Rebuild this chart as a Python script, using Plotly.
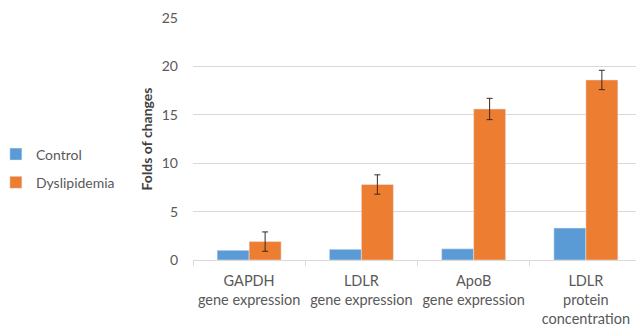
import plotly.graph_objects as go

categories = ["GAPDH<br>gene expression", "LDLR<br>gene expression", "ApoB<br>gene expression", "LDLR<br>protein<br>concentration"]
control = [1.0, 1.1, 1.15, 3.3]
dyslipidemia = [1.9, 7.8, 15.6, 18.6]
dys_err = [1.0, 1.0, 1.1, 1.0]
y_ticks = [0, 5, 10, 15, 20, 25]

fig = go.Figure()
fig.add_trace(go.Bar(name="Control", x=categories, y=control, marker_color="#5B9BD5",
                     legendgroup="a"))
fig.add_trace(go.Bar(name="Dyslipidemia", x=categories, y=dyslipidemia, marker_color="#ED7D31",
                     legendgroup="b",
                     error_y=dict(type="data", array=dys_err, color="#3a2a20", thickness=1, width=3)))

# page body has an 8px default margin, so the figure is 8px smaller and offsets are reduced by 8
fig.update_layout(
    width=636, height=320,
    margin=dict(l=185, r=2, t=10, b=68, autoexpand=False),
    paper_bgcolor="white", plot_bgcolor="white",
    barmode="group", bargap=0.43, bargroupgap=0,
    font=dict(family="Lato", size=14, color="#595959"),
    legend=dict(x=-0.439, y=0.502, xanchor="left", yanchor="top",
                font=dict(size=14, color="#595959"), itemwidth=30,
                traceorder="grouped", tracegroupgap=7),
    showlegend=True,
)
fig.update_yaxes(range=[0, 25], tickvals=y_ticks, showgrid=True, gridcolor="#D9D9D9",
                 zeroline=False, showline=False, ticks="", ticklabelstandoff=14,
                 tickfont=dict(size=14, color="#595959"),
                 title=dict(text="<b>Folds of changes</b>", font=dict(size=14, color="#404040"), standoff=5))
fig.update_xaxes(showline=True, linecolor="#D9D9D9", ticks="outside", tickson="boundaries",
                 ticklen=5, tickcolor="#D9D9D9", tickangle=0, ticklabelstandoff=8,
                 tickfont=dict(size=14.5, color="#595959"))

fig.write_html("out.html")
